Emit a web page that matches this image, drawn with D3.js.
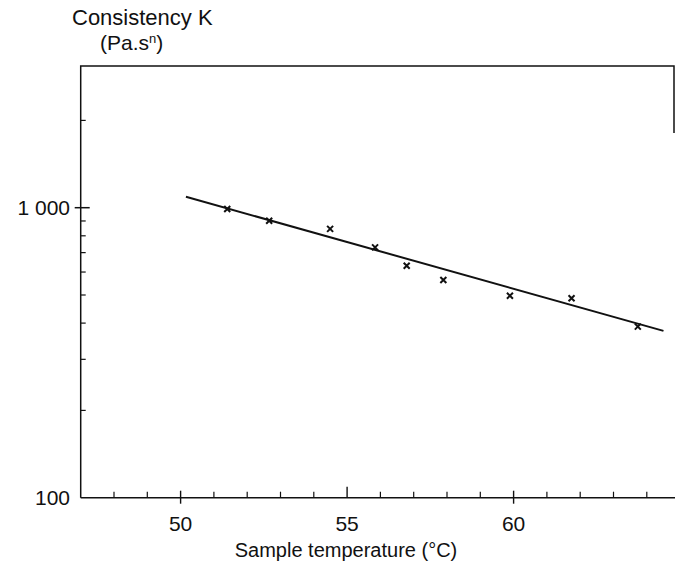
<!DOCTYPE html>
<html>
<head>
  <meta charset="utf-8">
  <script src="https://d3js.org/d3.v7.min.js"></script>
  <style>
    body { margin: 0; background: #fff; }
    text { font-family: "Liberation Sans", Arial, sans-serif; fill: #111; }
  </style>
</head>
<body>
<div id="vis"></div>
<script>
  // measured points: temperature (°C) and consistency K (Pa.s^n)
  var temps = [51.4, 52.66, 54.49, 55.84, 56.79, 57.89, 59.89, 61.74, 63.73];
  var kValues = [990, 902, 845, 730, 631, 563, 497, 487, 389];

  // fitted line end points
  var fitTemps = [50.16, 64.5];
  var fitK = [1091, 376];

  var xMajor = [50, 55, 60];
  var xMinor = [48, 49, 51, 52, 53, 54, 56, 57, 58, 59, 61, 62, 63, 64];
  var yLabels = [100, 1000];
  var yMinor = [200, 300, 400, 500, 600, 700, 800, 900, 2000];

  var width = 675, height = 568;

  var svg = d3.select('#vis')
    .append('svg')
    .attr('width', width)
    .attr('height', height);

  var x = d3.scaleLinear().domain([47, 64]).range([80.7, 646.8]);
  var y = d3.scaleLog().domain([100, 1000]).range([497.7, 207.7]);

  var yTop = y(3080), xRight = 674;

  // frame: top line and a short piece of the right edge
  svg.append('path')
    .attr('d', 'M' + x(47) + ',' + y(100) + 'V' + yTop + 'H' + xRight + 'V' + (yTop + 67))
    .attr('fill', 'none')
    .attr('stroke', '#111')
    .attr('stroke-width', 1.5);

  // bottom axis line
  svg.append('line')
    .attr('x1', x(47)).attr('x2', width)
    .attr('y1', y(100)).attr('y2', y(100))
    .attr('stroke', '#111').attr('stroke-width', 1.5);

  // x ticks
  svg.selectAll('.xminor')
    .data(xMinor).enter()
    .append('line')
    .attr('x1', d => x(d)).attr('x2', d => x(d))
    .attr('y1', y(100)).attr('y2', y(100) - 6)
    .attr('stroke', '#111').attr('stroke-width', 1.2);

  svg.selectAll('.xmajor')
    .data(xMajor).enter()
    .append('line')
    .attr('x1', d => x(d)).attr('x2', d => x(d))
    .attr('y1', d => d === 55 ? y(100) : y(100) + 6)
    .attr('y2', d => d === 55 ? y(100) - 11 : y(100) - 7)
    .attr('stroke', '#111').attr('stroke-width', 1.4);

  svg.selectAll('.xlab')
    .data(xMajor).enter()
    .append('text')
    .attr('x', d => x(d))
    .attr('y', 531)
    .attr('text-anchor', 'middle')
    .style('font-size', '21px')
    .text(d => d);

  // y ticks
  svg.selectAll('.yminor')
    .data(yMinor).enter()
    .append('line')
    .attr('x1', x(47)).attr('x2', x(47) + 5)
    .attr('y1', d => y(d)).attr('y2', d => y(d))
    .attr('stroke', '#111').attr('stroke-width', 1.2);

  svg.append('line')
    .attr('x1', x(47) - 6).attr('x2', x(47) + 9)
    .attr('y1', y(1000)).attr('y2', y(1000))
    .attr('stroke', '#111').attr('stroke-width', 1.5);

  svg.selectAll('.ylab')
    .data(yLabels).enter()
    .append('text')
    .attr('x', 70)
    .attr('y', d => y(d) + 7)
    .attr('text-anchor', 'end')
    .style('font-size', '21px')
    .text(d => d === 1000 ? '1 000' : d);

  // axis titles
  svg.append('text')
    .attr('x', 72).attr('y', 25)
    .style('font-size', '22px')
    .text('Consistency K');

  var unit = svg.append('text')
    .attr('x', 100).attr('y', 50)
    .style('font-size', '21px');
  unit.append('tspan').text('(Pa.s');
  unit.append('tspan').attr('dy', -7).style('font-size', '13px').text('n');
  unit.append('tspan').attr('dy', 7).text(')');

  svg.append('text')
    .attr('x', 346).attr('y', 557)
    .attr('text-anchor', 'middle')
    .style('font-size', '20px')
    .text('Sample temperature (°C)');

  // fitted line
  svg.append('line')
    .attr('x1', x(fitTemps[0])).attr('y1', y(fitK[0]))
    .attr('x2', x(fitTemps[1])).attr('y2', y(fitK[1]))
    .attr('stroke', '#111').attr('stroke-width', 2);

  // cross markers
  var pts = temps.map((t, i) => ({ t: t, k: kValues[i] }));
  var s = 3;
  svg.selectAll('.pt')
    .data(pts).enter()
    .append('path')
    .attr('d', d => {
      var px = x(d.t), py = y(d.k);
      return 'M' + (px - s) + ',' + (py - s) + 'L' + (px + s) + ',' + (py + s) +
        'M' + (px + s) + ',' + (py - s) + 'L' + (px - s) + ',' + (py + s);
    })
    .attr('stroke', '#111')
    .attr('stroke-width', 2)
    .attr('fill', 'none');
</script>
</body>
</html>
